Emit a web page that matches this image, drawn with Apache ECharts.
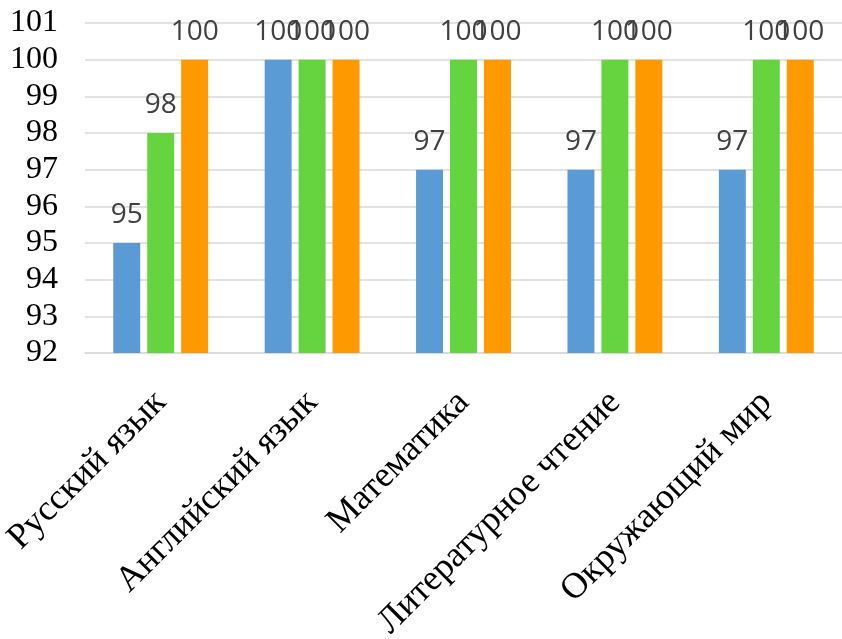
<!DOCTYPE html>
<html><head><meta charset="utf-8">
<script src="https://cdn.jsdelivr.net/npm/echarts@6/dist/echarts.min.js"></script>
<style>html,body{margin:0;padding:0;background:#fff}#c{width:842px;height:639px}</style>
</head><body><div id="c"></div>
<script>
const categories = ['Русский язык','Английский язык','Математика','Литературное чтение','Окружающий мир'];
const seriesA = [95, 100, 97, 97, 97];
const seriesB = [98, 100, 100, 100, 100];
const seriesC = [100, 100, 100, 100, 100];
const yTicks = {min: 92, max: 101, interval: 1};

const colors = ['#5B9BD5', '#66D43F', '#FF9900'];
const labelStyle = {show: true, position: 'top', distance: 14, color: '#404040', fontSize: 28, fontFamily: 'Open Sans'};
function mk(data, i){
  return {type:'bar', data: data, barWidth: '17.8%', barGap: '26%', itemStyle:{color: colors[i]}, label: labelStyle, animation:false};
}
const chart = echarts.init(document.getElementById('c'));
chart.setOption({
  animation:false,
  grid:{left:85, right:0, top:23, bottom:286, containLabel:false, outerBoundsMode:'none'},
  xAxis:{type:'category', data: categories,
    axisLine:{show:true, lineStyle:{color:'#D9D9D9', width:1.5}}, axisTick:{show:false},
    axisLabel:{rotate:45, interval:0, margin:44, color:'#000', fontSize:36, fontFamily:'Liberation Serif'}},
  yAxis:{type:'value', min:yTicks.min, max:yTicks.max, interval:yTicks.interval,
    axisLine:{show:false}, axisTick:{show:false},
    splitLine:{lineStyle:{color:'#D9D9D9', width:1.5}},
    axisLabel:{margin:27, color:'#000', fontSize:32, fontFamily:'Liberation Serif'}},
  series:[mk(seriesA,0), mk(seriesB,1), mk(seriesC,2)]
});
</script></body></html>
